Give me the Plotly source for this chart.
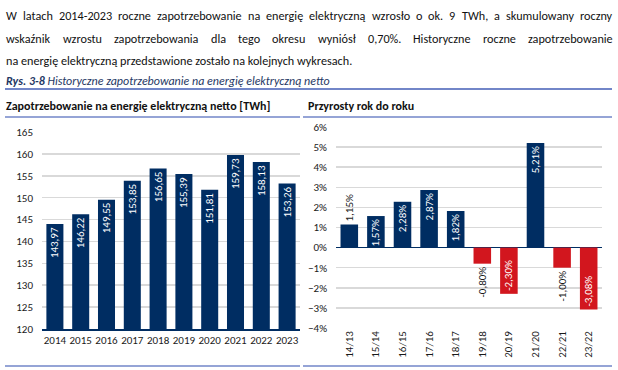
import plotly.graph_objects as go

years = ["2014", "2015", "2016", "2017", "2018", "2019", "2020", "2021", "2022", "2023"]
demand = [143.97, 146.22, 149.55, 153.85, 156.65, 155.39, 151.81, 159.73, 158.13, 153.26]
periods = ["14/13", "15/14", "16/15", "17/16", "18/17", "19/18", "20/19", "21/20", "22/21", "23/22"]
growth = [1.15, 1.57, 2.28, 2.87, 1.82, -0.80, -2.30, 5.21, -1.00, -3.08]

line1 = "W latach 2014-2023 roczne zapotrzebowanie na energię elektryczną wzrosło o ok. 9 TWh, a skumulowany roczny"
line2 = "wskaźnik wzrostu zapotrzebowania dla tego okresu wyniósł 0,70%. Historyczne roczne zapotrzebowanie"
line3 = "na energię elektryczną przedstawione zostało na kolejnych wykresach."

NAVY = "#002d62"
RED = "#d2161e"
LINE = "#7286c8"
GRID = "#d9d9d9"
FONT = "Carlito, Lato, sans-serif"
TXT = "#1a1a1a"

W, H = 618, 370

def px(x):
    return x / W

def py(y):
    return 1 - y / H

fig = go.Figure()

fig.add_trace(go.Bar(
    x=years, y=demand, marker=dict(color=NAVY, line=dict(width=0)),
    text=[f"{v:.2f}".replace(".", ",") for v in demand],
    textposition="inside", insidetextanchor="end", textangle=-90,
    textfont=dict(color="white", size=11, family=FONT),
    constraintext="none",
    xaxis="x", yaxis="y", showlegend=False, hoverinfo="skip",
))

inside_flags = [abs(v) > 1.5 for v in growth]
fig.add_trace(go.Bar(
    x=periods, y=growth,
    marker=dict(color=[NAVY if v >= 0 else RED for v in growth], line=dict(width=0)),
    text=[f"{v:.2f}".replace(".", ",") + "%" for v in growth],
    textposition=["inside" if f else "outside" for f in inside_flags],
    insidetextanchor="end", textangle=-90,
    textfont=dict(color=["white" if f else TXT for f in inside_flags], size=11, family=FONT),
    constraintext="none", cliponaxis=False,
    xaxis="x2", yaxis="y2", showlegend=False, hoverinfo="skip",
))

fig.update_layout(
    template="none",
    width=W, height=H, margin=dict(l=0, r=0, t=0, b=0, pad=0, autoexpand=False),
    paper_bgcolor="white", plot_bgcolor="white",
    bargap=0.34, separators=", ",
    font=dict(family=FONT, size=11, color=TXT),
    xaxis=dict(domain=[px(42), px(300)], anchor="y", type="category", automargin=False,
               showline=True, linecolor=NAVY, linewidth=1.5, ticks="",
               tickfont=dict(size=11, color=TXT), showgrid=False),
    yaxis=dict(domain=[py(329), py(132)], anchor="x", range=[120, 165], automargin=False,
               dtick=5, tick0=120, showgrid=True, gridcolor=GRID, gridwidth=1.5,
               zeroline=False, showline=False, ticks="", ticklabelstandoff=8,
               tickfont=dict(size=11, color=TXT)),
    xaxis2=dict(domain=[px(336), px(602)], anchor="y2", type="category", automargin=False,
                showline=False, ticks="", tickangle=-90, showgrid=False,
                tickfont=dict(size=11, color=TXT)),
    yaxis2=dict(domain=[py(328), py(127)], anchor="x2", range=[-4, 6], automargin=False,
                dtick=1, showgrid=True, gridcolor=GRID, gridwidth=1.5,
                zeroline=True, zerolinecolor=NAVY, zerolinewidth=1.5,
                ticksuffix="%", ticks="", ticklabelstandoff=8,
                tickfont=dict(size=11, color=TXT)),
)

shapes = []
def hline(x0, x1, y, w=1.5):
    shapes.append(dict(type="line", xref="paper", yref="paper",
                       x0=px(x0), x1=px(x1), y0=py(y), y1=py(y),
                       line=dict(color=LINE, width=w)))

hline(5, 612, 89, 2)
hline(5, 300, 117)
hline(303, 612, 117)
hline(5, 300, 366)
hline(303, 612, 366)
fig.update_layout(shapes=shapes)

ann = []
def text(x, y, s, size=12, color="#111111", anchor="left", name=None):
    d = dict(xref="paper", yref="paper", x=px(x), y=py(y), text=s,
             showarrow=False, xanchor=anchor, yanchor="middle", borderpad=0,
             font=dict(size=size, color=color, family=FONT))
    if name:
        d["name"] = name
    ann.append(d)

PSIZE = 12.2
LEFT, RIGHT = 5, 612

# words of justified lines; real positions are set in the browser after measuring
for li, (ln, y) in enumerate([(line1, 15), (line2, 38)]):
    words = ln.split(" ")
    step = (RIGHT - LEFT) / len(words)
    for k, w in enumerate(words):
        text(LEFT + k * step, y, w, size=PSIZE, name=f"J{li}_{k}")

text(LEFT, 61, line3, size=PSIZE)
text(5, 81, "<b><i>Rys. 3-8</i></b><i> Historyczne zapotrzebowanie na energię elektryczną netto</i>",
     size=12, color="#1f3864")
text(5, 106, "<b>Zapotrzebowanie na energię elektryczną netto [TWh]</b>", size=12)
text(307, 106, "<b>Przyrosty rok do roku</b>", size=12)
fig.update_layout(annotations=ann)

JS = """
document.body.style.margin='0px';
var gd = document.getElementById('{plot_id}');
var W = %d, L = %d, R = %d;
var anns = gd.layout.annotations;
var groups = {};
anns.forEach(function(a, i){
  if (a.name && a.name.charAt(0) === 'J') {
    var g = a.name.split('_')[0];
    (groups[g] = groups[g] || []).push(i);
  }
});
var upd = {};
Object.keys(groups).forEach(function(g){
  var idx = groups[g];
  var ws = idx.map(function(i){
    var el = gd.querySelector('.annotation[data-index="' + i + '"] .annotation-text');
    return el ? el.getBBox().width : 0;
  });
  var total = ws.reduce(function(a, b){ return a + b; }, 0);
  var gap = (R - L - total) / (idx.length - 1);
  var x = L;
  idx.forEach(function(i, k){
    upd['annotations[' + i + '].x'] = x / W;
    x += ws[k] + gap;
  });
});
Plotly.relayout(gd, upd);
""" % (W, LEFT, RIGHT)

fig.write_html("out.html", post_script=JS, config={"displayModeBar": False, "staticPlot": True})
